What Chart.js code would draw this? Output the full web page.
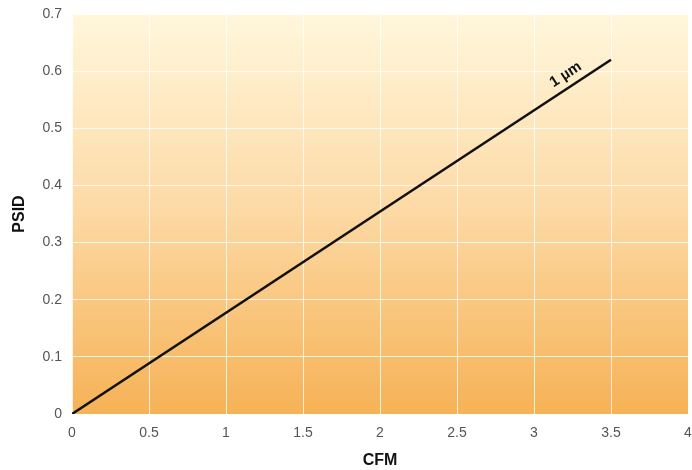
<!DOCTYPE html>
<html><head><meta charset="utf-8">
<script src="https://cdn.jsdelivr.net/npm/chart.js@4/dist/chart.umd.min.js"></script>
<style>html,body{margin:0;padding:0;background:#fff}#w{width:692px;height:470px}</style>
</head><body><div id="w"><canvas id="c" width="692" height="470"></canvas></div>
<script>
const cfmValues = [0, 3.5];
const psidValues = [0, 0.62];
const xTicks = [0, 0.5, 1, 1.5, 2, 2.5, 3, 3.5, 4];
const yTicks = [0, 0.1, 0.2, 0.3, 0.4, 0.5, 0.6, 0.7];
const lineLabel = '1 µm';
const labelAt = 3.25;

const FONT = '"Liberation Sans Narrow", "Liberation Sans", Arial';

const bgPlugin = {
  id: 'bg',
  beforeDraw(chart) {
    const {ctx, chartArea: a} = chart;
    const g = ctx.createLinearGradient(0, a.top, 0, a.bottom);
    g.addColorStop(0, '#fff7dc');
    g.addColorStop(0.45, '#fddcaa');
    g.addColorStop(1, '#f6b256');
    ctx.save();
    ctx.fillStyle = g;
    ctx.fillRect(a.left, a.top, a.right - a.left, a.bottom - a.top);
    ctx.restore();
  }
};
const labelPlugin = {
  id: 'lbl',
  afterDatasetsDraw(chart) {
    const {ctx, scales: {x, y}} = chart;
    const slope = (psidValues[1] - psidValues[0]) / (cfmValues[1] - cfmValues[0]);
    const px = x.getPixelForValue(labelAt), py = y.getPixelForValue(slope * labelAt);
    const p2x = x.getPixelForValue(cfmValues[1]), p2y = y.getPixelForValue(psidValues[1]);
    const ang = Math.atan2(p2y - py, p2x - px);
    ctx.save();
    ctx.translate(px, py);
    ctx.rotate(ang);
    ctx.font = 'bold 15px ' + FONT;
    ctx.fillStyle = '#111';
    ctx.textAlign = 'center';
    ctx.textBaseline = 'bottom';
    ctx.fillText(lineLabel, 0, -5);
    ctx.restore();
  }
};

new Chart(document.getElementById('c'), {
  type: 'scatter',
  data: {
    datasets: [{
      data: cfmValues.map((v, i) => ({x: v, y: psidValues[i]})),
      showLine: true,
      borderColor: '#111',
      borderWidth: 2.5,
      pointRadius: 0,
      tension: 0
    }]
  },
  options: {
    responsive: false,
    animation: false,
    layout: {padding: {top: 14, right: 4, left: 0, bottom: 0}},
    plugins: {legend: {display: false}, tooltip: {enabled: false}},
    scales: {
      x: {
        type: 'linear', min: 0, max: 4,
        afterBuildTicks: s => { s.ticks = xTicks.map(v => ({value: v})); },
        afterFit: s => { s.paddingRight = 0; s.paddingLeft = 0; s.height = 56; },
        ticks: {color: '#555', font: {family: FONT, size: 14}, padding: 11, maxRotation: 0,
          callback: v => String(v)},
        grid: {color: 'rgba(255,255,255,0.8)', lineWidth: 1, drawTicks: false},
        border: {display: false},
        title: {display: true, text: 'CFM', color: '#111', font: {family: FONT, size: 16, weight: 'bold'}, padding: {top: 2, bottom: 0}}
      },
      y: {
        type: 'linear', min: 0, max: 0.7,
        afterBuildTicks: s => { s.ticks = yTicks.map(v => ({value: v})); },
        afterFit: s => { s.width = 72; s.paddingTop = 0; s.paddingBottom = 0; },
        ticks: {color: '#555', font: {family: FONT, size: 14}, padding: 10,
          callback: v => String(v)},
        grid: {color: 'rgba(255,255,255,0.8)', lineWidth: 1, drawTicks: false},
        border: {display: false},
        title: {display: true, text: 'PSID', color: '#111', font: {family: FONT, size: 16, weight: 'bold'}, padding: {top: 10, bottom: 4}}
      }
    }
  },
  plugins: [bgPlugin, labelPlugin]
});
</script></body></html>
